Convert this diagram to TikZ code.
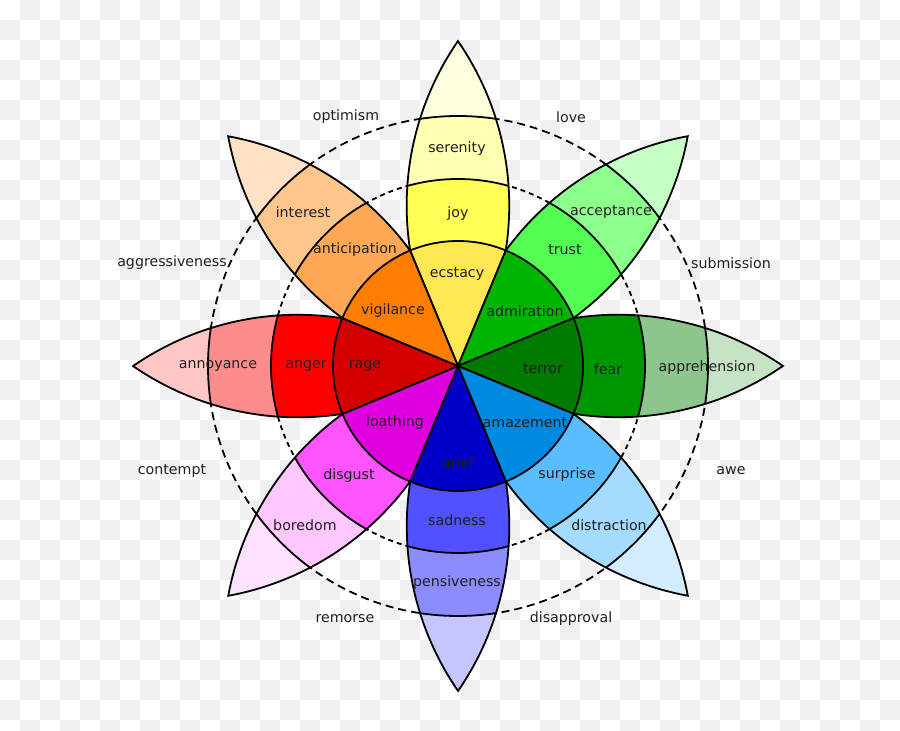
\documentclass[tikz,border=0pt]{standalone}
\usepackage{fontspec}
\setmainfont{DejaVu Sans}

% petal colours, inner band (A) to tip (D)
\definecolor{joyA}{HTML}{FFE854}
\definecolor{joyB}{HTML}{FFFF54}
\definecolor{joyC}{HTML}{FFFFB1}
\definecolor{joyD}{HTML}{FFFFDE}
\definecolor{trustA}{HTML}{00B400}
\definecolor{trustB}{HTML}{54FF54}
\definecolor{trustC}{HTML}{8CFF8C}
\definecolor{trustD}{HTML}{C6FFC6}
\definecolor{fearA}{HTML}{007B00}
\definecolor{fearB}{HTML}{009600}
\definecolor{fearC}{HTML}{8CC68C}
\definecolor{fearD}{HTML}{C6E3C6}
\definecolor{surpA}{HTML}{0089E0}
\definecolor{surpB}{HTML}{59BDFF}
\definecolor{surpC}{HTML}{A5DBFF}
\definecolor{surpD}{HTML}{D4ECFF}
\definecolor{sadA}{HTML}{0000C8}
\definecolor{sadB}{HTML}{5151FF}
\definecolor{sadC}{HTML}{8C8CFF}
\definecolor{sadD}{HTML}{C6C6FF}
\definecolor{disgA}{HTML}{DE00DE}
\definecolor{disgB}{HTML}{FF54FF}
\definecolor{disgC}{HTML}{FFC6FF}
\definecolor{disgD}{HTML}{FFE2FF}
\definecolor{angA}{HTML}{D40000}
\definecolor{angB}{HTML}{FF0000}
\definecolor{angC}{HTML}{FF8C8C}
\definecolor{angD}{HTML}{FFC6C6}
\definecolor{antA}{HTML}{FF7D00}
\definecolor{antB}{HTML}{FFA854}
\definecolor{antC}{HTML}{FFC68C}
\definecolor{antD}{HTML}{FFE2C6}

\begin{document}
\begin{tikzpicture}[x=1pt, y=1pt, line width=1.8pt,
    lbl/.style={font=\fontsize{14.2}{17}\selectfont, text=black!88, yshift=-1pt}]
  \tikzset{petal/.style={insert path={(0,0) -- (112.5:125)
      arc[start angle=188.9, end angle=145.4, radius=289.9pt]
      arc[start angle=34.6, end angle=-8.9, radius=289.9pt] -- cycle}}}
  \useasboundingbox (-458,-365) rectangle (442,366);
  % checkered backdrop
  \fill[white] (-458,-365) rectangle (442,366);
  \foreach \i in {0,...,44}
    \foreach \j in {0,...,36}{
      \pgfmathparse{int(mod(\i+\j,2))}
      \ifnum\pgfmathresult=1
        \fill[black!6] (20*\i-458, 366-20*\j) rectangle ++(20,-20);
      \fi
    }
  % dashed rings
  \draw[dash pattern=on 5pt off 4pt] (0,0) circle[radius=187pt];
  \draw[dash pattern=on 8pt off 5pt] (0,0) circle[radius=250pt];
  % petals
  \foreach \a/\ca/\cb/\cc/\cd in {0/joyA/joyB/joyC/joyD,
      -45/trustA/trustB/trustC/trustD, -90/fearA/fearB/fearC/fearD,
      -135/surpA/surpB/surpC/surpD, 180/sadA/sadB/sadC/sadD,
      135/disgA/disgB/disgC/disgD, 90/angA/angB/angC/angD,
      45/antA/antB/antC/antD}{
    \begin{scope}[rotate=\a]
      \begin{scope}
        \clip[petal];
        \fill[\cd] (0,0) circle[radius=330pt];
        \fill[\cc] (0,0) circle[radius=250pt];
        \fill[\cb] (0,0) circle[radius=187pt];
        \fill[\ca] (0,0) circle[radius=125pt];
        \draw (0,0) circle[radius=125pt] (0,0) circle[radius=187pt]
          (0,0) circle[radius=250pt];
      \end{scope}
      \draw[petal];
    \end{scope}
  }
  % emotions
  \node[lbl] (ecstacy) at (-1,93) {ecstacy};
  \node[lbl] (joy) at (0,153) {joy};
  \node[lbl] (serenity) at (-1,218) {serenity};
  \node[lbl] (admiration) at (67,56) {admiration};
  \node[lbl] (trust) at (107,117) {trust};
  \node[lbl] (acceptance) at (153,155) {acceptance};
  \node[lbl] (terror) at (85,-2) {terror};
  \node[lbl] (fear) at (150,-2) {fear};
  \node[lbl] (apprehension) at (249,-1) {apprehension};
  \node[lbl] (amazement) at (67,-56) {amazement};
  \node[lbl] (surprise) at (109,-108) {surprise};
  \node[lbl] (distraction) at (151,-158) {distraction};
  \node[lbl] (grief) at (0,-97) {grief};
  \node[lbl] (sadness) at (-1,-153) {sadness};
  \node[lbl] (pensiveness) at (-1,-216) {pensiveness};
  \node[lbl] (loathing) at (-63,-56) {loathing};
  \node[lbl] (disgust) at (-109,-109) {disgust};
  \node[lbl] (boredom) at (-153,-158) {boredom};
  \node[lbl] (rage) at (-93,1) {rage};
  \node[lbl] (anger) at (-152,1) {anger};
  \node[lbl] (annoyance) at (-240,1) {annoyance};
  \node[lbl] (vigilance) at (-65,56) {vigilance};
  \node[lbl] (anticipation) at (-103,117) {anticipation};
  \node[lbl] (interest) at (-155,155) {interest};
  % dyads
  \node[lbl] (optimism) at (-112,250) {optimism};
  \node[lbl] (love) at (113,250) {love};
  \node[lbl] (submission) at (273,104) {submission};
  \node[lbl] (awe) at (273,-104) {awe};
  \node[lbl] (disapproval) at (113,-252) {disapproval};
  \node[lbl] (remorse) at (-113,-252) {remorse};
  \node[lbl] (contempt) at (-286,-104) {contempt};
  \node[lbl] (aggressiveness) at (-286,104) {aggressiveness};
\end{tikzpicture}
\end{document}
